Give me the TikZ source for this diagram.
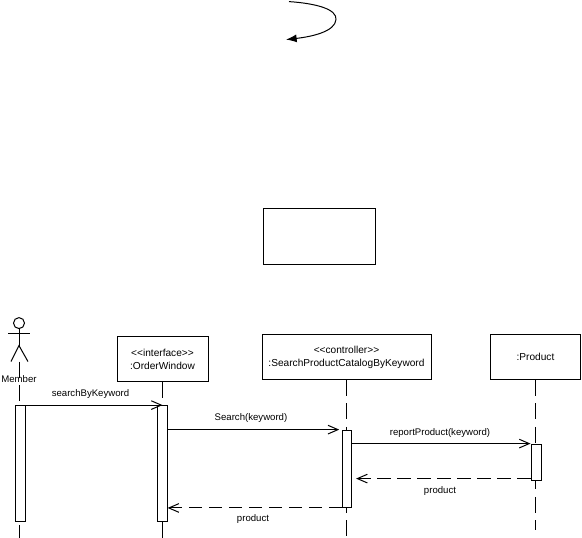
\documentclass[tikz,border=0pt]{standalone}
\usepackage{fontspec}
\setmainfont{Liberation Sans}
\usetikzlibrary{arrows.meta}

\tikzset{
	objbox/.style={draw, fill=white, line width=0.75pt, align=center, inner sep=0pt, font=\fontsize{7.6}{9.75}\selectfont},
	acbar/.style={draw, fill=white, line width=0.75pt, inner sep=0pt, minimum width=6.9pt},
	msgtext/.style={inner sep=0pt, font=\fontsize{7.2}{9}\selectfont},
	lifeline/.style={line width=0.75pt, dash pattern=on 12pt off 5.5pt},
	call/.style={line width=0.75pt, -{Straight Barb[length=7.5pt,width=6.5pt]}},
	reply/.style={line width=0.75pt, dash pattern=on 10pt off 5pt, -{Straight Barb[length=7.5pt,width=6.5pt]}},
}

\begin{document}
\begin{tikzpicture}[x=0.75pt, y=-0.75pt]
\useasboundingbox (0,-0.6) rectangle (582,537.4);

% Lazo y caja superior
\coordinate (loopA) at (289,1);
\coordinate (loopB) at (286,39);
\draw[line width=0.75pt, -{Latex[length=8pt,width=6pt]}] (loopA) .. controls (318,3) and (337,9) .. (336,19) .. controls (335,31) and (312,36) .. (loopB);
\node[objbox, minimum width=84pt, minimum height=42pt] (blank) at (319,236) {};

% Actor
\node[circle, draw, line width=0.75pt, minimum size=8.25pt, inner sep=0pt] (head) at (19,322.5) {};
\coordinate (hip) at (19,345);
\coordinate (armL) at (8,333);
\coordinate (armR) at (30,333);
\coordinate (legL) at (11,361);
\coordinate (legR) at (28,361);
\coordinate (foot) at (19,361);
\node[msgtext] (member) at (19,378) {Member};
\draw[line width=0.75pt] (head) -- (hip);
\draw[line width=0.75pt] (armL) -- (armR);
\draw[line width=0.75pt] (legL) -- (hip) -- (legR);

% Objetos
\node[objbox, minimum width=68.25pt, minimum height=33.75pt] (window) at (162.5,358.5) {<{}<interface>{}>\\:OrderWindow};
\node[objbox, minimum width=126.75pt, minimum height=33.75pt] (control) at (346.5,356.5) {<{}<controller>{}>\\:SearchProductCatalogByKeyword};
\node[objbox, minimum width=67.5pt, minimum height=33.75pt] (product) at (535.5,356.5) {:Product};

% Lineas de vida
\coordinate (memberEnd) at (19,537);
\coordinate (windowEnd) at (162.5,537);
\coordinate (controlEnd) at (346.5,537);
\coordinate (productEnd) at (535.5,529);
\foreach \a/\b in {foot/memberEnd, window/windowEnd, control/controlEnd, product/productEnd}
	\draw[lifeline] (\a.south) -- (\b);

% Activaciones
\node[acbar, minimum width=7.5pt, minimum height=87pt] (acMember) at (20.5,463) {};
\node[acbar, minimum height=87pt] (acWindow) at (162.5,463) {};
\node[acbar, minimum height=58pt] (acControl) at (347,468.2) {};
\node[acbar, minimum width=7.5pt, minimum height=27pt] (acProduct) at (536,461.5) {};

% Mensajes
\draw[call] (acMember.north east) -- (acWindow.north west -| window.south);
\draw[call, shorten >=2pt] (acWindow.east |- acControl.north) -- (acControl.north west);
\draw[call] (acControl.east |- acProduct.north) -- (acProduct.north west);
\coordinate (retB) at (acControl.east |- 0,478);
\draw[reply, shorten >=3pt] (acProduct.west |- 0,478) -- (retB);
\draw[reply] (acControl.south west) -- (acWindow.east |- acControl.south);

\node[msgtext] (lblSearchBy) at (90.5,393.5) {searchByKeyword};
\node[msgtext] (lblSearch) at (251,417.5) {Search(keyword)};
\node[msgtext] (lblReport) at (440,432) {reportProduct(keyword)};
\node[msgtext] (lblProductA) at (440,490.5) {product};
\node[msgtext] (lblProductB) at (253,518) {product};
\end{tikzpicture}
\end{document}
